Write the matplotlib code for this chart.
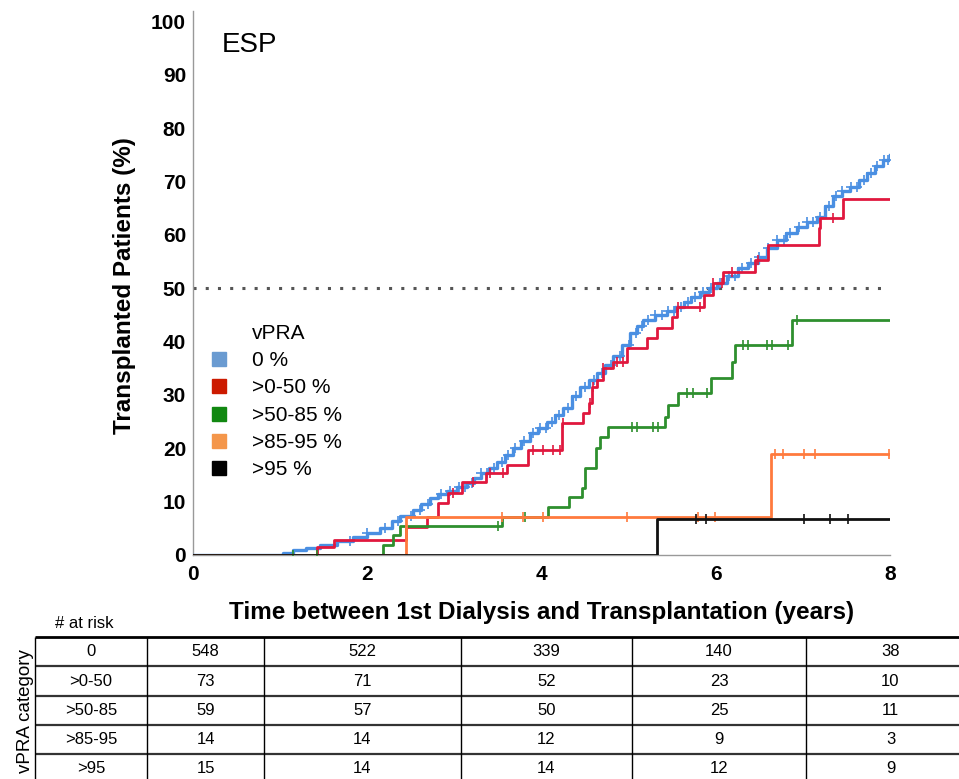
import numpy as np
import matplotlib
matplotlib.use('Agg')
import matplotlib.pyplot as plt
from matplotlib.lines import Line2D

plt.rcParams['font.family'] = ['Liberation Sans', 'DejaVu Sans']

# Kaplan-Meier style curves (years, % transplanted)
t_0 = [0, 1.03, 1.15, 1.30, 1.46, 1.65, 1.84, 2.00, 2.15, 2.28, 2.38, 2.53, 2.62, 2.72, 2.81,
       2.91, 3.03, 3.15, 3.22, 3.30, 3.40, 3.49, 3.58, 3.67, 3.77, 3.87, 3.96, 4.06, 4.15, 4.25,
       4.35, 4.44, 4.54, 4.64, 4.73, 4.82, 4.92, 5.02, 5.10, 5.17, 5.30, 5.44, 5.53, 5.63, 5.72,
       5.82, 5.92, 6.02, 6.13, 6.25, 6.37, 6.48, 6.59, 6.70, 6.81, 6.93, 7.05, 7.16, 7.25, 7.35,
       7.45, 7.54, 7.64, 7.74, 7.83, 7.92, 8.0]
v_0 = [0, 0.4, 0.9, 1.4, 1.9, 2.6, 3.4, 4.2, 5.1, 6.3, 7.3, 8.4, 9.6, 10.7, 11.4,
       12.0, 12.7, 13.5, 14.4, 15.3, 16.4, 17.5, 18.7, 20.0, 21.4, 22.8, 23.8, 24.9, 26.2, 27.6,
       29.8, 31.5, 32.8, 34.2, 35.7, 37.3, 39.4, 41.6, 43.0, 44.1, 45.0, 45.7, 46.5, 47.4, 48.3,
       49.3, 50.1, 51.0, 52.4, 53.8, 54.8, 55.9, 57.5, 59.1, 60.3, 61.5, 62.4, 63.4, 65.4, 67.3,
       68.2, 69.0, 70.3, 71.6, 72.9, 74.1, 75.0]

t_1 = [0, 1.42, 1.62, 2.45, 2.69, 2.81, 2.93, 3.09, 3.36, 3.60, 3.85, 4.23, 4.48, 4.54, 4.58,
       4.64, 4.71, 4.82, 4.98, 5.21, 5.33, 5.50, 5.56, 5.86, 5.97, 6.08, 6.45, 6.60, 7.18, 7.20,
       7.46, 8.0]
v_1 = [0, 1.5, 2.8, 5.3, 7.1, 9.8, 11.6, 13.7, 15.4, 16.9, 19.7, 24.8, 26.6, 28.5, 31.5,
       32.8, 35.1, 36.2, 38.8, 40.7, 42.6, 44.7, 46.5, 48.8, 51.0, 53.1, 55.3, 58.2, 61.3, 63.2,
       66.8, 66.8]

t_2 = [0, 2.18, 2.30, 2.38, 3.55, 4.08, 4.31, 4.47, 4.50, 4.62, 4.67, 4.76, 5.42, 5.45, 5.57,
       5.94, 6.19, 6.22, 6.88, 8.0]
v_2 = [0, 1.9, 3.8, 5.4, 7.2, 9.0, 10.8, 12.6, 16.3, 20.1, 22.1, 24.0, 25.9, 28.1, 30.4,
       33.2, 36.2, 39.4, 44.1, 44.1]

t_3 = [0, 2.45, 6.63, 8.0]
v_3 = [0, 7.2, 18.9, 18.9]

t_4 = [0, 5.33, 8.0]
v_4 = [0, 6.7, 6.7]

# censoring marks (years)
cens_0 = [1.8, 2.0, 2.2, 2.35, 2.5, 2.6, 2.7, 2.85, 2.95, 3.05, 3.12, 3.2, 3.3, 3.38, 3.45,
          3.55, 3.62, 3.7, 3.8, 3.9, 3.98, 4.05, 4.12, 4.2, 4.3, 4.4, 4.5, 4.6, 4.7, 4.8, 4.9,
          5.0, 5.08, 5.15, 5.22, 5.3, 5.38, 5.45, 5.52, 5.6, 5.68, 5.76, 5.85, 5.95, 6.05, 6.15,
          6.22, 6.3, 6.4, 6.5, 6.6, 6.7, 6.78, 6.85, 6.95, 7.05, 7.12, 7.2, 7.3, 7.38, 7.45,
          7.55, 7.62, 7.7, 7.78, 7.85, 7.93, 7.98]
cens_1 = [2.98, 3.21, 3.41, 3.56, 3.90, 4.02, 4.13, 4.21, 4.59, 4.71, 4.25, 4.56, 4.87,
          4.94, 5.57, 5.82, 5.97, 6.07, 6.19, 6.48, 7.35]
cens_2 = [1.15, 1.42, 3.50, 3.81, 5.04, 5.10, 5.28, 5.34, 5.67, 5.74, 5.90, 6.31, 6.37,
          6.59, 6.65, 6.83, 6.93]
cens_3 = [3.55, 3.79, 4.02, 4.98, 5.80, 5.99, 6.68, 6.77, 7.01, 7.14, 7.99]
cens_4 = [5.77, 5.89, 7.01, 7.31, 7.52]

groups = ['0 %', '>0-50 %', '>50-85 %', '>85-95 %', '>95 %']
line_cols = ['#4a8fe2', '#e0183e', '#2e8f2e', '#ff7a3d', '#111111']
key_cols = ['#6a9bd1', '#cc1a00', '#118811', '#f4964a', '#000000']

# numbers at risk
risk_rows = ['0', '>0-50', '>50-85', '>85-95', '>95']
risk_0 = [548, 522, 339, 140, 38]
risk_1 = [73, 71, 52, 23, 10]
risk_2 = [59, 57, 50, 25, 11]
risk_3 = [14, 14, 12, 9, 3]
risk_4 = [15, 14, 14, 12, 9]

curves = [(t_0, v_0, cens_0), (t_1, v_1, cens_1), (t_2, v_2, cens_2),
          (t_3, v_3, cens_3), (t_4, v_4, cens_4)]
risk = [risk_0, risk_1, risk_2, risk_3, risk_4]

fig = plt.figure(figsize=(9.59, 7.79), dpi=100)
W, H = 959, 779
ax = fig.add_axes([193 / W, 1 - 555 / H, 697 / W, 544 / H])

for k, ((t, v, c), col) in enumerate(zip(curves, line_cols)):
    t = np.array(t)
    v = np.array(v)
    ax.plot(t, v, drawstyle='steps-post', color=col, lw=2.4 if k == 0 else 2.0, zorder=3)
    idx = np.searchsorted(t, np.array(c), side='right') - 1
    ax.plot(c, v[idx], ls='none', marker='+' if k == 0 else '|', ms=7, mew=1.2,
            color=col, zorder=3)

ax.axhline(50, color='#555555', lw=2.2, ls=(0, (1, 3.0)), zorder=2)

ax.set_xlim(0, 8)
ax.set_ylim(0, 102)
ax.set_xticks([0, 2, 4, 6, 8])
ax.set_yticks(np.arange(0, 101, 10))
ax.tick_params(length=0, labelsize=15)
ax.tick_params(axis='y', pad=5)
ax.tick_params(axis='x', pad=7)
for lab in ax.get_xticklabels() + ax.get_yticklabels():
    lab.set_fontweight('bold')
for s in ['top', 'right']:
    ax.spines[s].set_visible(False)
for s in ['left', 'bottom']:
    ax.spines[s].set_color('#999999')
    ax.spines[s].set_linewidth(1.0)

ax.set_ylabel('Transplanted Patients (%)', fontsize=17.5, fontweight='bold')
ax.yaxis.set_label_coords(-0.082, 0.496)
ax.set_xlabel('Time between 1st Dialysis and Transplantation (years)', fontsize=17.5,
              fontweight='bold')
ax.xaxis.set_label_coords(0.5, -0.085)

ax.text(0.33, 95.7, 'ESP', fontsize=20, va='center', ha='left')

handles = [Line2D([], [], ls='none')]
handles += [Line2D([], [], ls='none', marker='s', ms=10, color=c) for c in key_cols]
leg = ax.legend(handles, ['vPRA'] + groups, loc='upper left', bbox_to_anchor=(0.022, 0.425),
                frameon=False, fontsize=15, handlelength=1.0, handletextpad=1.1,
                labelspacing=0.40, borderaxespad=0, borderpad=0)

# at-risk table drawn in pixel coordinates
tb = fig.add_axes([0, 0, 1, 1])
tb.set_xlim(0, W)
tb.set_ylim(H, 0)
tb.axis('off')
tb.patch.set_alpha(0)

col_edges = [35, 147, 264, 461, 632, 806, 975]
row_edges = [637, 666, 696, 725, 754, 783]
tb.hlines(row_edges[0], col_edges[0], W, color='black', lw=2.0)
tb.hlines(row_edges[1:], col_edges[0], W, color='#333333', lw=1.6)
tb.vlines(col_edges[:-1], row_edges[0], row_edges[-1], color='black', lw=1.0)

for i, name in enumerate(risk_rows):
    yc = (row_edges[i] + row_edges[i + 1]) / 2
    tb.text((col_edges[0] + col_edges[1]) / 2, yc, name, ha='center', va='center', fontsize=12)
    for j, n in enumerate(risk[i]):
        xc = (col_edges[j + 1] + col_edges[j + 2]) / 2
        tb.text(xc, yc, str(n), ha='center', va='center', fontsize=12)

tb.text(55, 623, '# at risk', ha='left', va='center', fontsize=12)
tb.text(25, 711, 'vPRA category', ha='center', va='center', rotation=90, fontsize=13.5)

fig.savefig('out.png', dpi=100)
